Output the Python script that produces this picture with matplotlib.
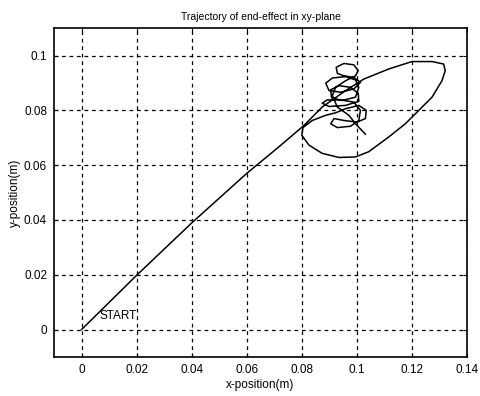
import matplotlib
matplotlib.use("Agg")
import matplotlib.pyplot as plt

plt.rcParams['font.family'] = ['Liberation Sans', 'DejaVu Sans']

# straight run from the start point
x_run = [0.0, 0.02, 0.04, 0.06, 0.0717]
y_run = [0.0, 0.0198, 0.0389, 0.057, 0.0667]

# overshoot into the big loop
x_loop = [0.0808, 0.0874, 0.0959, 0.1025, 0.1116, 0.1200, 0.1273, 0.1315, 0.1321,
          0.1309, 0.1273, 0.1225, 0.1176, 0.1116, 0.1043, 0.0995, 0.0935, 0.0874,
          0.0826, 0.0800, 0.0804, 0.0838, 0.0887]
y_loop = [0.0745, 0.0812, 0.0872, 0.0914, 0.0951, 0.0978, 0.0978, 0.0969, 0.0945,
          0.0908, 0.0848, 0.0800, 0.0751, 0.0703, 0.0649, 0.0630, 0.0628, 0.0643,
          0.0673, 0.0709, 0.0737, 0.0763, 0.0782]

# settling oscillations near the target
x_osc = [0.0923, 0.0959, 0.1007, 0.1034, 0.1031, 0.1001, 0.0953, 0.0917, 0.0905,
         0.0929, 0.0977, 0.1007, 0.1013, 0.0989, 0.0941, 0.0892, 0.0874, 0.0899,
         0.0959, 0.1007, 0.1005, 0.0977, 0.0935, 0.0905, 0.0908, 0.0947, 0.0995,
         0.1007, 0.0995, 0.0959, 0.0911, 0.0887, 0.0899, 0.0941, 0.0989, 0.1013,
         0.0989, 0.0953, 0.0929, 0.0925, 0.0953, 0.0989, 0.1005, 0.0995, 0.0959,
         0.0923, 0.0911, 0.0929, 0.0971, 0.0995, 0.1031]
y_osc = [0.0791, 0.0806, 0.0818, 0.0800, 0.0770, 0.0757, 0.0763, 0.0770, 0.0751,
         0.0737, 0.0742, 0.0763, 0.0800, 0.0830, 0.0838, 0.0838, 0.0826, 0.0814,
         0.0818, 0.0833, 0.0862, 0.0884, 0.0890, 0.0875, 0.0846, 0.0836, 0.0848,
         0.0884, 0.0911, 0.0923, 0.0918, 0.0899, 0.0872, 0.0866, 0.0878, 0.0902,
         0.0920, 0.0926, 0.0935, 0.0957, 0.0971, 0.0966, 0.0945, 0.0926, 0.0908,
         0.0884, 0.0854, 0.0812, 0.0782, 0.0751, 0.0713]

x = x_run + x_loop + x_osc
y = y_run + y_loop + y_osc

xticks = [0, 0.02, 0.04, 0.06, 0.08, 0.1, 0.12, 0.14]
yticks = [0, 0.02, 0.04, 0.06, 0.08, 0.1]

fig = plt.figure(figsize=(4.81, 3.96), dpi=100)
ax = fig.add_axes([0.1123, 0.0985, 0.8586, 0.8305])

ax.plot(x, y, color='black', lw=1.1)
ax.text(0.0065, 0.0039, 'START', fontsize=8.5)

ax.set_xlim(-0.01, 0.14)
ax.set_ylim(-0.01, 0.11)
ax.set_xticks(xticks)
ax.set_xticklabels(['0', '0.02', '0.04', '0.06', '0.08', '0.1', '0.12', '0.14'])
ax.set_yticks(yticks)
ax.set_yticklabels(['0', '0.02', '0.04', '0.06', '0.08', '0.1'])
ax.tick_params(direction='in', labelsize=8.5, top=True, right=True, length=3, pad=5)
ax.grid(True, color='black', linestyle=(0, (3, 3)), lw=0.9)
for s in ax.spines.values():
    s.set_linewidth(1.2)

ax.set_title('Trajectory of end-effect in xy-plane', fontsize=7.5, pad=6)
ax.set_xlabel('x-position(m)', fontsize=8.5, labelpad=2)
ax.set_ylabel('y-position(m)', fontsize=8.5, labelpad=2)

fig.savefig('out.png', dpi=100)
